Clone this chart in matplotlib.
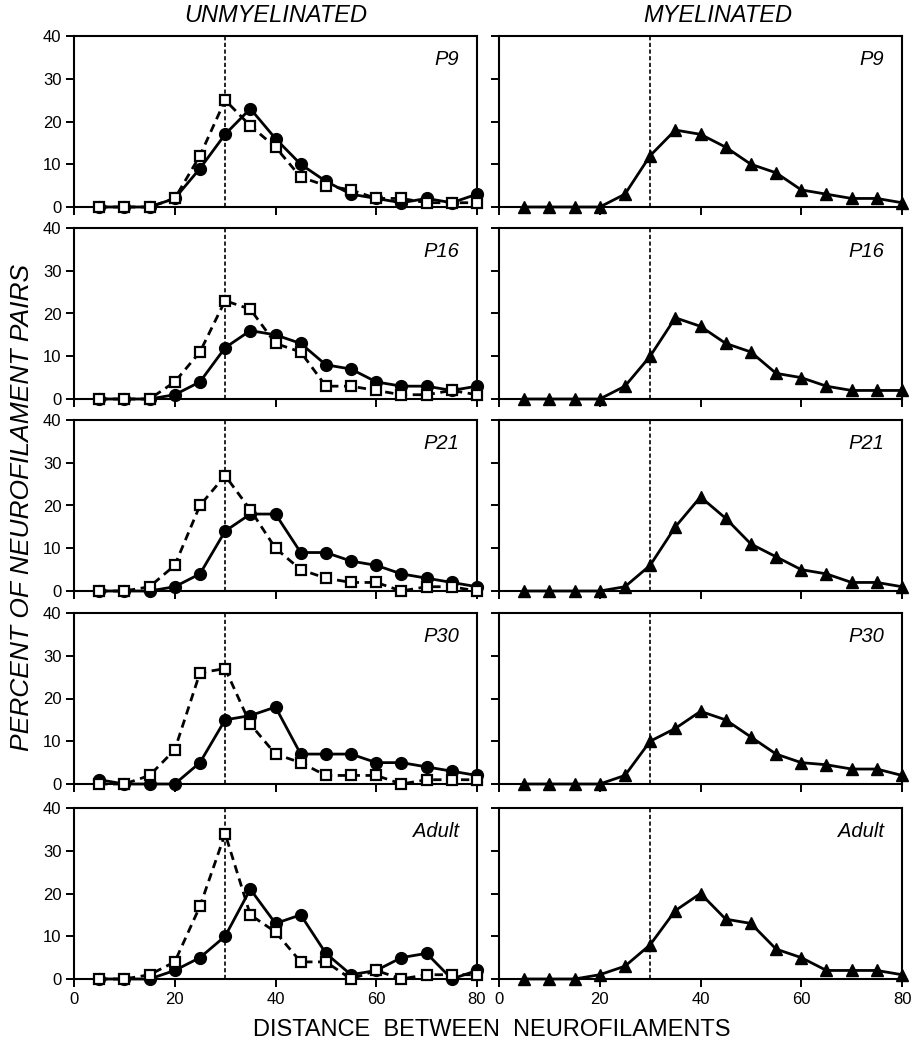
import matplotlib.pyplot as plt

plt.rcParams['font.family'] = ['Liberation Sans', 'DejaVu Sans']

# distance between neurofilaments (bin centres)
dist = [5, 10, 15, 20, 25, 30, 35, 40, 45, 50, 55, 60, 65, 70, 75, 80]

ages = ['P9', 'P16', 'P21', 'P30', 'Adult']

# unmyelinated axons, filled circles (solid line)
p9_circ = [0, 0, 0, 2, 9, 17, 23, 16, 10, 6, 3, 2, 1, 2, 1, 3]
p16_circ = [0, 0, 0, 1, 4, 12, 16, 15, 13, 8, 7, 4, 3, 3, 2, 3]
p21_circ = [0, 0, 0, 1, 4, 14, 18, 18, 9, 9, 7, 6, 4, 3, 2, 1]
p30_circ = [1, 0, 0, 0, 5, 15, 16, 18, 7, 7, 7, 5, 5, 4, 3, 2]
adult_circ = [0, 0, 0, 2, 5, 10, 21, 13, 15, 6, 1, 2, 5, 6, 0, 2]

# unmyelinated axons, open squares (dashed line)
p9_sq = [0, 0, 0, 2, 12, 25, 19, 14, 7, 5, 4, 2, 2, 1, 1, 1]
p16_sq = [0, 0, 0, 4, 11, 23, 21, 13, 11, 3, 3, 2, 1, 1, 2, 1]
p21_sq = [0, 0, 1, 6, 20, 27, 19, 10, 5, 3, 2, 2, 0, 1, 1, 0]
p30_sq = [0, 0, 2, 8, 26, 27, 14, 7, 5, 2, 2, 2, 0, 1, 1, 1]
adult_sq = [0, 0, 1, 4, 17, 34, 15, 11, 4, 4, 0, 2, 0, 1, 1, 1]

# myelinated axons, triangles
p9_tri = [0, 0, 0, 0, 3, 12, 18, 17, 14, 10, 8, 4, 3, 2, 2, 1]
p16_tri = [0, 0, 0, 0, 3, 10, 19, 17, 13, 11, 6, 5, 3, 2, 2, 2]
p21_tri = [0, 0, 0, 0, 1, 6, 15, 22, 17, 11, 8, 5, 4, 2, 2, 1]
p30_tri = [0, 0, 0, 0, 2, 10, 13, 17, 15, 11, 7, 5, 4.5, 3.5, 3.5, 2]
adult_tri = [0, 0, 0, 1, 3, 8, 16, 20, 14, 13, 7, 5, 2, 2, 2, 1]

circs = [p9_circ, p16_circ, p21_circ, p30_circ, adult_circ]
sqs = [p9_sq, p16_sq, p21_sq, p30_sq, adult_sq]
tris = [p9_tri, p16_tri, p21_tri, p30_tri, adult_tri]

W, H = 912, 1050
fig = plt.figure(figsize=(W / 100, H / 100), dpi=100)

tops = [36, 228, 420, 613, 808]
ph = 171
lefts = [74, 499]
pw = 403

for i, age in enumerate(ages):
    y0 = 1 - (tops[i] + ph) / H
    axL = fig.add_axes([lefts[0] / W, y0, pw / W, ph / H])
    axR = fig.add_axes([lefts[1] / W, y0, pw / W, ph / H])
    for ax in (axL, axR):
        ax.set_xlim(0, 80)
        ax.set_ylim(0, 40)
        ax.axvline(30, color='black', lw=1.2, ls=(0, (2.5, 1.5)), zorder=1)
        ax.set_xticks([0, 20, 40, 60, 80])
        ax.set_yticks([0, 10, 20, 30, 40])
        ax.tick_params(direction='out', length=6, width=1.4, labelsize=12, pad=3)
        for s in ax.spines.values():
            s.set_linewidth(1.5)
        ax.text(0.955, 0.86, age, transform=ax.transAxes, ha='right', va='center',
                fontsize=14.5, style='italic')
        if i < 4:
            ax.set_xticklabels([])
    axR.set_yticklabels([])

    axL.plot(dist, circs[i], '-o', color='black', lw=2, ms=8.5, clip_on=False, zorder=3)
    axL.plot(dist, sqs[i], ls=(0, (3, 2)), marker='s', color='black', mfc='white',
             mec='black', mew=1.6, lw=2, ms=7.5, clip_on=False, zorder=4)
    axR.plot(dist, tris[i], '-^', color='black', lw=2, ms=9, clip_on=False, zorder=3)

title_font = ['Liberation Sans Narrow', 'Liberation Sans', 'DejaVu Sans']
fig.text(276 / W, 1 - 15 / H, 'UNMYELINATED', ha='center', va='center', fontsize=17,
         style='italic', family=title_font)
fig.text(718 / W, 1 - 15 / H, 'MYELINATED', ha='center', va='center', fontsize=17,
         style='italic', family=title_font)
fig.text(22 / W, 1 - 507 / H, 'PERCENT OF NEUROFILAMENT PAIRS', rotation=90, ha='center',
         va='center', fontsize=19, style='italic')
fig.text(492 / W, 1 - 1030 / H, 'DISTANCE  BETWEEN  NEUROFILAMENTS', ha='center', va='center',
         fontsize=17)

fig.savefig('out.png', dpi=100)
